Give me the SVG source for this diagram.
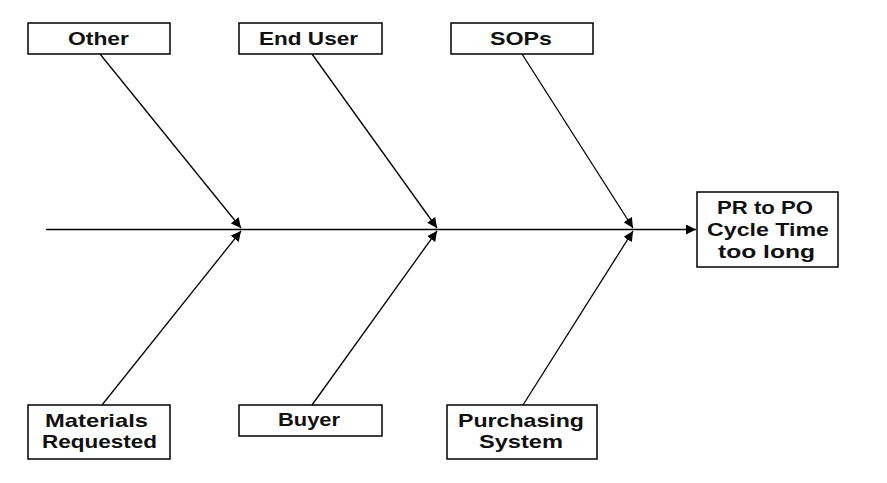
<svg xmlns="http://www.w3.org/2000/svg" width="887" height="483" viewBox="0 0 887 483">
<style>
.box{fill:#fff;stroke:#000;stroke-width:1.5}
.t{font-family:"Liberation Sans",Arial,sans-serif;font-weight:bold;font-size:19px;fill:#111;text-anchor:middle}
.ln{stroke:#000;stroke-width:1.3;fill:none}
</style>
<defs>
<marker id="ah" viewBox="0 0 10 10" refX="10" refY="5" markerWidth="10" markerHeight="10" markerUnits="userSpaceOnUse" orient="auto">
<path d="M0,0 L10,5 L0,10 z" fill="#000"/>
</marker>
</defs>
<g id="connectors">
<line class="ln" x1="46" y1="229.5" x2="696" y2="229.5" marker-end="url(#ah)"/>
<line class="ln" x1="100" y1="54" x2="241" y2="228" marker-end="url(#ah)"/>
<line class="ln" x1="102" y1="405" x2="241" y2="231" marker-end="url(#ah)"/>
<line class="ln" x1="312" y1="54" x2="437" y2="228" marker-end="url(#ah)"/>
<line class="ln" x1="312" y1="405" x2="437" y2="231" marker-end="url(#ah)"/>
<line class="ln" x1="522" y1="54" x2="633" y2="228" marker-end="url(#ah)"/>
<line class="ln" x1="523" y1="405" x2="633" y2="231" marker-end="url(#ah)"/>
</g>
<g id="other"><rect class="box" x="28" y="23" width="142" height="31"/><text class="t" x="98.5" y="45" textLength="61" lengthAdjust="spacingAndGlyphs">Other</text></g>
<g id="enduser"><rect class="box" x="239" y="23" width="143" height="31"/><text class="t" x="308.5" y="45" textLength="99" lengthAdjust="spacingAndGlyphs">End User</text></g>
<g id="sops"><rect class="box" x="451" y="23" width="142" height="31"/><text class="t" x="521" y="45" textLength="62" lengthAdjust="spacingAndGlyphs">SOPs</text></g>
<g id="materials"><rect class="box" x="28" y="405" width="142" height="54"/><text class="t" x="96.5" y="427" textLength="103" lengthAdjust="spacingAndGlyphs">Materials</text><text class="t" x="99.5" y="448" textLength="115" lengthAdjust="spacingAndGlyphs">Requested</text></g>
<g id="buyer"><rect class="box" x="239" y="405" width="143" height="31"/><text class="t" x="309" y="426" textLength="62" lengthAdjust="spacingAndGlyphs">Buyer</text></g>
<g id="purchasing"><rect class="box" x="447" y="405" width="150" height="54"/><text class="t" x="521" y="427" textLength="126" lengthAdjust="spacingAndGlyphs">Purchasing</text><text class="t" x="521" y="448" textLength="84" lengthAdjust="spacingAndGlyphs">System</text></g>
<g id="effect"><rect class="box" x="697" y="192" width="141" height="75"/><text class="t" x="765" y="214" textLength="96" lengthAdjust="spacingAndGlyphs">PR to PO</text><text class="t" x="768" y="236" textLength="122" lengthAdjust="spacingAndGlyphs">Cycle Time</text><text class="t" x="766.5" y="258" textLength="97" lengthAdjust="spacingAndGlyphs">too long</text></g>
</svg>
